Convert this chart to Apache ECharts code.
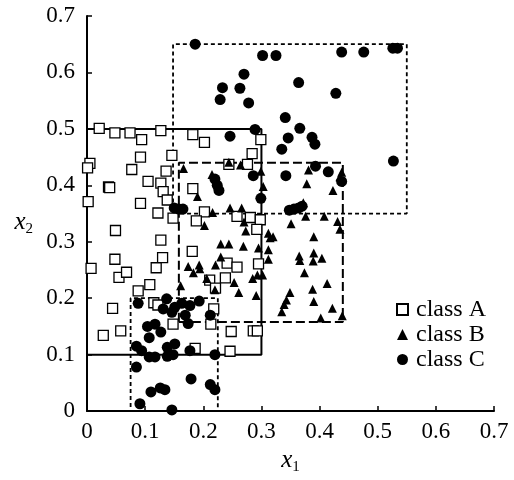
<!DOCTYPE html>
<html><head><meta charset="utf-8">
<script src="https://cdn.jsdelivr.net/npm/echarts@6/dist/echarts.min.js"></script>
<style>html,body{margin:0;padding:0;background:#fff}#c{width:514px;height:480px}</style>
</head><body><div id="c"></div>
<script>
const tickValues = [0, 0.1, 0.2, 0.3, 0.4, 0.5, 0.6, 0.7];
const classA = [[0.021,0.501],[0.048,0.493],[0.074,0.493],[0.094,0.481],[0.127,0.497],[0.182,0.490],[0.202,0.476],[0.299,0.481],[0.284,0.456],[0.146,0.453],[0.092,0.450],[0.005,0.439],[0.001,0.431],[0.077,0.428],[0.136,0.425],[0.105,0.407],[0.127,0.404],[0.131,0.389],[0.138,0.374],[0.037,0.397],[0.039,0.396],[0.002,0.371],[0.092,0.368],[0.122,0.351],[0.148,0.342],[0.182,0.394],[0.202,0.353],[0.188,0.337],[0.258,0.345],[0.281,0.343],[0.298,0.339],[0.292,0.322],[0.049,0.320],[0.127,0.303],[0.048,0.269],[0.130,0.272],[0.181,0.283],[0.007,0.253],[0.055,0.237],[0.068,0.246],[0.119,0.254],[0.241,0.262],[0.258,0.255],[0.295,0.261],[0.211,0.232],[0.238,0.236],[0.221,0.218],[0.108,0.224],[0.088,0.213],[0.115,0.192],[0.122,0.188],[0.044,0.182],[0.218,0.181],[0.028,0.134],[0.058,0.142],[0.148,0.154],[0.213,0.154],[0.248,0.141],[0.286,0.142],[0.293,0.142],[0.186,0.111],[0.246,0.106],[0.244,0.437],[0.276,0.437]];
const classB = [[0.166,0.430],[0.215,0.419],[0.244,0.441],[0.264,0.436],[0.299,0.425],[0.303,0.398],[0.190,0.380],[0.216,0.352],[0.246,0.360],[0.266,0.360],[0.202,0.329],[0.273,0.319],[0.270,0.335],[0.312,0.315],[0.320,0.309],[0.315,0.307],[0.295,0.289],[0.312,0.286],[0.312,0.269],[0.230,0.296],[0.244,0.296],[0.269,0.292],[0.230,0.273],[0.174,0.256],[0.193,0.259],[0.194,0.252],[0.183,0.245],[0.221,0.259],[0.206,0.235],[0.220,0.215],[0.253,0.228],[0.261,0.210],[0.285,0.235],[0.293,0.241],[0.302,0.241],[0.291,0.205],[0.161,0.222],[0.381,0.427],[0.378,0.403],[0.423,0.391],[0.438,0.423],[0.435,0.415],[0.372,0.369],[0.376,0.345],[0.408,0.345],[0.431,0.336],[0.435,0.322],[0.351,0.332],[0.390,0.309],[0.365,0.275],[0.366,0.267],[0.390,0.280],[0.389,0.266],[0.404,0.271],[0.374,0.245],[0.349,0.210],[0.343,0.197],[0.339,0.189],[0.335,0.176],[0.388,0.216],[0.390,0.194],[0.413,0.226],[0.422,0.182],[0.402,0.165],[0.439,0.169]];
const classC = [[0.186,0.650],[0.302,0.630],[0.325,0.630],[0.438,0.636],[0.476,0.636],[0.526,0.643],[0.534,0.643],[0.270,0.597],[0.233,0.573],[0.263,0.572],[0.229,0.552],[0.278,0.546],[0.364,0.582],[0.428,0.563],[0.341,0.520],[0.366,0.501],[0.346,0.484],[0.387,0.485],[0.392,0.473],[0.335,0.464],[0.289,0.499],[0.246,0.487],[0.527,0.443],[0.393,0.434],[0.415,0.424],[0.342,0.417],[0.286,0.417],[0.220,0.411],[0.224,0.400],[0.227,0.391],[0.299,0.377],[0.438,0.407],[0.348,0.356],[0.356,0.358],[0.364,0.360],[0.370,0.363],[0.150,0.360],[0.158,0.358],[0.165,0.358],[0.088,0.191],[0.137,0.199],[0.131,0.181],[0.146,0.175],[0.151,0.184],[0.163,0.191],[0.177,0.187],[0.193,0.195],[0.174,0.155],[0.169,0.170],[0.212,0.170],[0.104,0.150],[0.117,0.154],[0.127,0.140],[0.107,0.130],[0.151,0.119],[0.138,0.113],[0.085,0.115],[0.094,0.107],[0.107,0.096],[0.117,0.096],[0.138,0.097],[0.148,0.100],[0.177,0.107],[0.220,0.100],[0.085,0.078],[0.179,0.057],[0.212,0.047],[0.220,0.038],[0.110,0.034],[0.126,0.041],[0.134,0.038],[0.091,0.013],[0.146,0.002]];
// rectangles: [xmin, ymin, xmax, ymax]
const rectA = [0, 0.1, 0.3, 0.5];
const rectB = [0.158, 0.158, 0.44, 0.44];
const rectC1 = [0.148, 0.35, 0.55, 0.65];
const rectC2 = [0.075, 0, 0.225, 0.2];

function corners(r){ return [[r[0],r[1]],[r[2],r[1]],[r[2],r[3]],[r[0],r[3]],[r[0],r[1]]]; }
function rectSeries(r, type, w){
  return {type:'line', data:corners(r), symbol:'none', silent:true, z:1,
    lineStyle:{color:'#000', width:w, type:type}, animation:false};
}
const serif = 'Liberation Serif, Times New Roman, serif';
const chart = echarts.init(document.getElementById('c'));
const axisCommon = {
  type:'value', min:0, max:0.7, interval:0.1,
  axisLine:{show:true, lineStyle:{color:'#000', width:2}},
  axisTick:{show:true, inside:true, length:5, lineStyle:{color:'#000', width:1.5}},
  splitLine:{show:false},
  axisLabel:{color:'#000', fontFamily:serif, fontSize:23,
    formatter:v => { const t = tickValues.find(x=>Math.abs(x-v)<1e-9); return t===0?'0':String(t); }},
  nameTextStyle:{color:'#000', fontFamily:serif,
    rich:{i:{fontFamily:serif, fontStyle:'italic', fontSize:25, color:'#000'},
          s:{fontFamily:serif, fontSize:15, color:'#000', padding:[14,0,0,0]}}}
};
chart.setOption({
  animation:false,
  grid:{left:87, right:20, top:16, bottom:54},
  xAxis:Object.assign({}, axisCommon, {name:'{i|x}{s|1}', nameLocation:'middle', nameGap:33,
    axisLabel:Object.assign({}, axisCommon.axisLabel, {margin:9})}),
  yAxis:Object.assign({}, axisCommon, {name:'{i|x}{s|2}', nameLocation:'middle', nameRotate:0, nameGap:54,
    nameTextStyle:Object.assign({}, axisCommon.nameTextStyle, {padding:[18,0,0,0]}),
    axisLabel:Object.assign({}, axisCommon.axisLabel, {margin:12})}),
  legend:{orient:'vertical', left:391, top:292, itemWidth:11, itemHeight:11, itemGap:0,
    data:['class A','class B','class C'],
    textStyle:{color:'#000', fontFamily:serif, fontSize:24, lineHeight:25, padding:[0,0,0,3]}},
  series:[
    rectSeries(rectA,'solid',2),
    rectSeries(rectB,[9,4],2),
    rectSeries(rectC1,[4,3],1.8),
    rectSeries(rectC2,[4,3],1.8),
    {name:'class A', type:'scatter', data:classA, symbol:'rect', symbolSize:10, z:3,
      itemStyle:{color:'#fff', borderColor:'#000', borderWidth:1.3, opacity:1}},
    {name:'class B', type:'scatter', data:classB, symbol:'triangle', symbolSize:9, z:4,
      itemStyle:{color:'#000', opacity:1}},
    {name:'class C', type:'scatter', data:classC, symbol:'circle', symbolSize:11, z:5,
      itemStyle:{color:'#000', opacity:1}}
  ]
});
</script></body></html>
